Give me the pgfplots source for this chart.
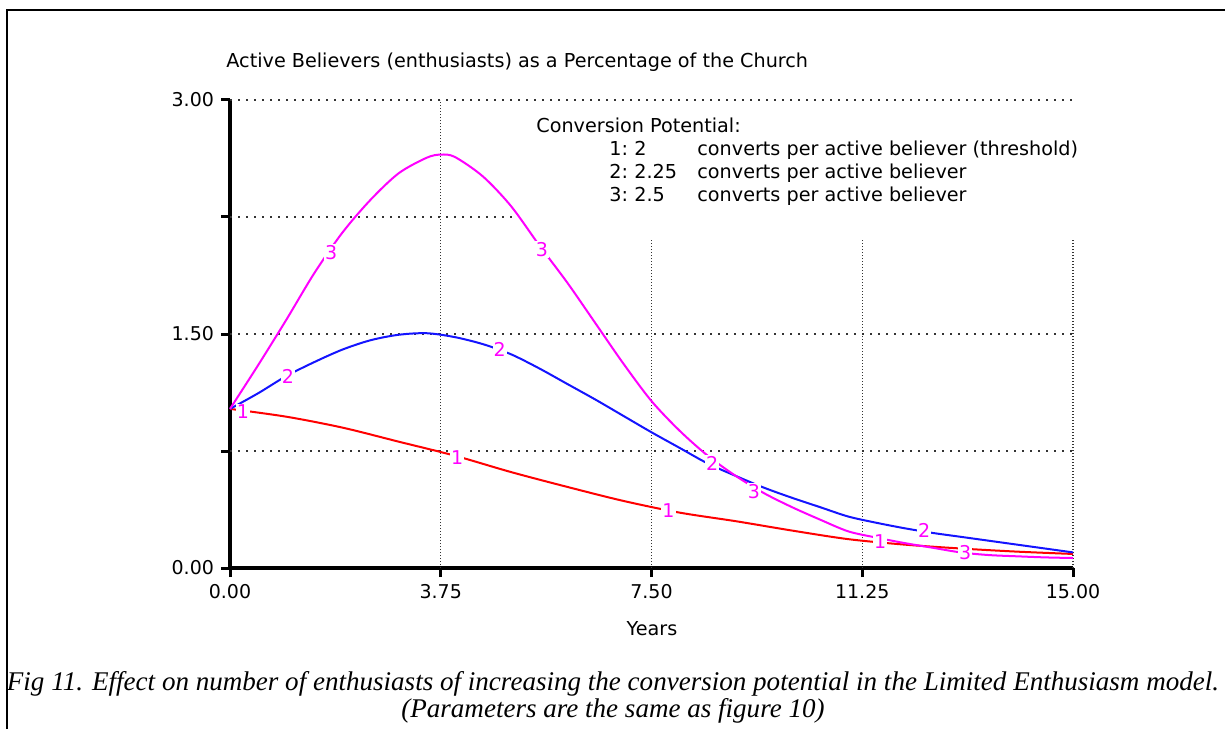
\documentclass[border=0pt]{standalone}
\usepackage{fontspec}
\setmainfont{DejaVu Sans}
\newfontfamily\capfont{Liberation Serif}
\usepackage{pgfplots}
\pgfplotsset{compat=1.18}

\definecolor{cred}{RGB}{255,0,0}
\definecolor{cblue}{RGB}{20,20,255}
\definecolor{cmag}{RGB}{255,0,255}

\begin{document}
\begin{tikzpicture}[
    lbl/.style={fill=white, text=cmag, inner sep=0.6pt, font=\fontsize{9.5}{10}\selectfont},
    txt/.style={font=\fontsize{9.6}{10}\selectfont, inner sep=0pt, anchor=base west},
    hgrid/.style={line width=0.9pt, dash pattern=on 0.9pt off 3.1pt, black!80},
    vgrid/.style={line width=0.6pt, dash pattern=on 0.6pt off 0.9pt, black!80},
  ]
  \useasboundingbox (0,0) rectangle (612.5pt,364.5pt);
  % frame of the figure
  \draw[line width=1.3pt] (3.5pt,0) -- (3.5pt,359.5pt) -- (612.5pt,359.5pt);

  \begin{axis}[
    at={(115pt,80.5pt)}, anchor=south west,
    scale only axis, width=421.5pt, height=234pt,
    xmin=0, xmax=15, ymin=0, ymax=3,
    axis x line=bottom, axis y line=left,
    axis line style={-, line width=2pt},
    xtick={0,3.75,7.5,11.25,15},
    xticklabels={0.00,3.75,7.50,11.25,15.00},
    ytick={0,0.75,1.5,2.25,3},
    yticklabels={0.00,,1.50,,3.00},
    tick align=outside, major tick length=4.5pt,
    tick style={line width=1.5pt, black},
    tick label style={font=\fontsize{9.5}{11}\selectfont},
    /pgf/number format/assume math mode=true,
    clip=false,
  ]
  % dotted grid
  \draw[hgrid] (axis cs:0,3) -- (axis cs:15,3);
  \draw[hgrid] (axis cs:0,2.25) -- (axis cs:5.1,2.25);
  \draw[hgrid] (axis cs:0,1.5) -- (axis cs:15,1.5);
  \draw[hgrid] (axis cs:0,0.75) -- (axis cs:15,0.75);
  \draw[vgrid] (axis cs:3.75,0) -- (axis cs:3.75,3);
  \draw[vgrid] (axis cs:7.5,0) -- (axis cs:7.5,2.1);
  \draw[vgrid] (axis cs:11.25,0) -- (axis cs:11.25,2.1);
  \draw[vgrid] (axis cs:15,0) -- (axis cs:15,2.1);

  % 1: 2 converts per active believer
  \addplot[cred, line width=1pt, smooth] coordinates {
    (0,1.02) (1,0.97) (2,0.90) (3,0.81) (4,0.72) (5,0.615) (6,0.52) (7,0.43)
    (8,0.355) (9,0.30) (10,0.24) (11,0.185) (12,0.15) (13,0.125) (14,0.105) (15,0.09)
  };
  % 2: 2.25 converts per active believer
  \addplot[cblue, line width=1pt, smooth] coordinates {
    (0,1.02) (0.5,1.12) (1,1.23) (1.5,1.32) (2,1.40) (2.5,1.46) (3,1.495) (3.5,1.505)
    (4,1.48) (4.5,1.435) (5,1.37) (5.5,1.28) (6,1.18) (6.5,1.08) (7,0.975) (7.5,0.87)
    (8,0.77) (8.5,0.67) (9,0.59) (9.5,0.515) (10,0.45) (10.5,0.39) (11,0.33) (11.5,0.29)
    (12,0.255) (12.5,0.225) (13,0.20) (13.5,0.175) (14,0.15) (14.5,0.125) (15,0.10)
  };
  % 3: 2.5 converts per active believer
  \addplot[cmag, line width=1pt, smooth] coordinates {
    (0,1.02) (0.5,1.30) (1,1.59) (1.5,1.89) (2,2.15) (2.5,2.36) (3,2.53) (3.5,2.63)
    (3.75,2.65) (4,2.635) (4.5,2.51) (5,2.32) (5.5,2.07) (6,1.83) (6.5,1.57) (7,1.31)
    (7.5,1.07) (8,0.88) (8.5,0.72) (9,0.59) (9.5,0.48) (10,0.39) (10.5,0.31) (11,0.235)
    (11.5,0.195) (12,0.16) (12.5,0.13) (13,0.10) (13.5,0.083) (14,0.075) (14.5,0.068) (15,0.064)
  };

  % curve numbers
  \node[lbl] at (axis cs:0.23,1.0) {1};
  \node[lbl] at (axis cs:4.04,0.705) {1};
  \node[lbl] at (axis cs:7.8,0.365) {1};
  \node[lbl] at (axis cs:11.57,0.167) {1};
  \node[lbl] at (axis cs:1.03,1.23) {2};
  \node[lbl] at (axis cs:4.8,1.40) {2};
  \node[lbl] at (axis cs:8.58,0.67) {2};
  \node[lbl] at (axis cs:12.35,0.24) {2};
  \node[lbl] at (axis cs:1.8,2.02) {3};
  \node[lbl] at (axis cs:5.55,2.04) {3};
  \node[lbl] at (axis cs:9.32,0.49) {3};
  \node[lbl] at (axis cs:13.08,0.10) {3};
  \end{axis}

  % title, legend text, axis label
  \node[txt] at (113pt,330.5pt) {Active Believers (enthusiasts) as a Percentage of the Church};
  \node[txt] at (268pt,298pt) {Conversion Potential:};
  \node[txt] at (304.5pt,286.5pt) {1:};
  \node[txt] at (317pt,286.5pt) {2};
  \node[txt] at (348.5pt,286.5pt) {converts per active believer (threshold)};
  \node[txt] at (304.5pt,275pt) {2:};
  \node[txt] at (317pt,275pt) {2.25};
  \node[txt] at (348.5pt,275pt) {converts per active believer};
  \node[txt] at (304.5pt,263.5pt) {3:};
  \node[txt] at (317pt,263.5pt) {2.5};
  \node[txt] at (348.5pt,263.5pt) {converts per active believer};
  \node[font=\fontsize{9.6}{10}\selectfont, inner sep=0pt] at (326pt,50pt) {Years};

  % caption
  \node[inner sep=0pt] at (306.5pt,15.5pt) {\resizebox{606pt}{\height}{\capfont\itshape\fontsize{13.5}{12}\selectfont
    \begin{tabular}{@{}c@{}}
    Fig 11. Effect on number of enthusiasts of increasing the conversion potential in the Limited Enthusiasm model.\\
    (Parameters are the same as figure 10)
    \end{tabular}}};
\end{tikzpicture}
\end{document}
